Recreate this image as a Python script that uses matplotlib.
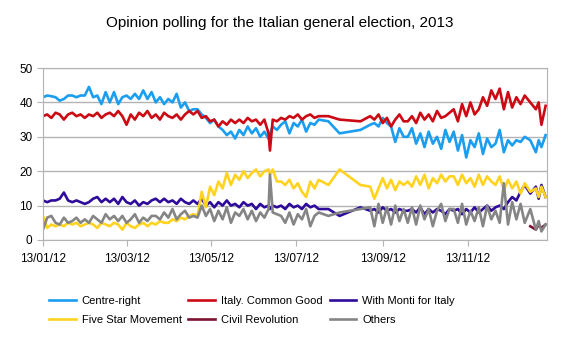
import matplotlib.pyplot as plt
import matplotlib.dates as mdates
from datetime import datetime

plt.rcParams['font.family'] = ['Liberation Sans', 'DejaVu Sans']

poll_dates = [
    "2012-01-13", "2012-01-16", "2012-01-19", "2012-01-22", "2012-01-25", "2012-01-28", "2012-01-31",
    "2012-02-03", "2012-02-06", "2012-02-09", "2012-02-12", "2012-02-15", "2012-02-18", "2012-02-21",
    "2012-02-24", "2012-02-27",
    "2012-03-01", "2012-03-04", "2012-03-07", "2012-03-10", "2012-03-13", "2012-03-16", "2012-03-19",
    "2012-03-22", "2012-03-25", "2012-03-28", "2012-03-31",
    "2012-04-03", "2012-04-06", "2012-04-09", "2012-04-12", "2012-04-15", "2012-04-18", "2012-04-21",
    "2012-04-24", "2012-04-27", "2012-04-30",
    "2012-05-03", "2012-05-06", "2012-05-09", "2012-05-12", "2012-05-15", "2012-05-18", "2012-05-21",
    "2012-05-24", "2012-05-27", "2012-05-30",
    "2012-06-02", "2012-06-05", "2012-06-08", "2012-06-11", "2012-06-14", "2012-06-17", "2012-06-20",
    "2012-06-23", "2012-06-24", "2012-06-26", "2012-06-29",
    "2012-07-02", "2012-07-05", "2012-07-08", "2012-07-11", "2012-07-14", "2012-07-17", "2012-07-20",
    "2012-07-23", "2012-07-26", "2012-07-29",
    "2012-08-05", "2012-08-13", "2012-08-28", "2012-09-04",
    "2012-09-07", "2012-09-10", "2012-09-13", "2012-09-16", "2012-09-19", "2012-09-22", "2012-09-25",
    "2012-09-28",
    "2012-10-01", "2012-10-04", "2012-10-07", "2012-10-10", "2012-10-13", "2012-10-16", "2012-10-19",
    "2012-10-22", "2012-10-25", "2012-10-28", "2012-10-31",
    "2012-11-03", "2012-11-06", "2012-11-09", "2012-11-12", "2012-11-15", "2012-11-18", "2012-11-21",
    "2012-11-24", "2012-11-27", "2012-11-30",
    "2012-12-03", "2012-12-06", "2012-12-09", "2012-12-12", "2012-12-15", "2012-12-18", "2012-12-21",
    "2012-12-24", "2012-12-28",
    "2013-01-01", "2013-01-03", "2013-01-05", "2013-01-08",
]

centre_right = [
    41.5, 42, 41.8, 41.5, 40.5, 41, 42,
    42, 41.5, 42, 42, 44.5, 41.5, 42, 39.5, 43,
    40, 43, 39.5, 41.5, 42, 41, 42.5, 41, 43.5, 41, 43,
    40, 41.5, 39.5, 41, 40, 42.5, 38.5, 40, 37.5, 38,
    38, 36.5, 35.5, 34, 35, 33, 32, 30.5, 31.5, 29.5,
    32, 30.5, 33, 31, 32.5, 30, 31.5, 29.5, 31, 33, 32,
    33.5, 34.5, 31, 34, 33, 35, 31.5, 34, 33.5, 35,
    34.5, 31, 32, 33.5,
    34, 33, 35.5, 34, 33, 28.5, 32.5, 30,
    30, 32.5, 28, 31, 27, 31.5, 28, 30, 26.5, 32, 28.5,
    31.5, 26, 30.5, 24, 29, 27, 31, 25, 29.5, 27,
    28, 32, 25.5, 29, 27.5, 29, 28.5, 30, 29,
    25.5, 29, 27, 30.5,
]

common_good = [
    36, 36.5, 35.5, 37, 36.5, 35, 36.5,
    37, 36, 36.5, 35.5, 36.5, 36, 37, 35.5, 36.5,
    37, 36, 37.5, 36, 33.5, 36.5, 35, 37, 36, 37.5, 35.5,
    36.5, 35, 37, 36, 35.5, 36.5, 35, 36.5, 37.5, 36.5,
    37.5, 35.5, 36, 34.5, 35, 33, 34.5, 33.5, 35, 34,
    35, 34, 35.5, 34.5, 35, 33.5, 35, 31, 26, 35, 34.5,
    35.5, 35, 36, 35.5, 36.5, 35, 36, 36.5, 35.5, 36,
    36, 35, 34.5, 36,
    35, 36.5, 34, 35.5, 33, 35, 36.5, 34.5,
    34.5, 36, 34, 37, 35, 36.5, 34.5, 37.5, 35.5, 36, 37,
    38, 34.5, 39.5, 36, 40, 36.5, 38, 41.5, 39, 43.5,
    41, 44, 38, 43, 38.5, 41.5, 39.5, 42, 40,
    38, 40, 33.5, 39,
]

monti = [
    11.5, 11, 11.5, 11.5, 12, 13.8, 11.5,
    11, 11.5, 11, 10.5, 11, 12, 12.5, 11, 12,
    11, 12, 10.5, 12.5, 11, 10.5, 11.5, 10, 11, 10.5, 11.5,
    12, 11, 12, 11, 11.5, 10.5, 12, 11, 10.5, 11.5,
    10.5, 12, 10, 11, 9.5, 11, 10, 11.5, 10, 10.5,
    9.5, 11, 10, 10.5, 9, 10.5, 9.5, 10, 9, 10, 9.5,
    10, 9, 10.5, 9.5, 10, 9, 10.5, 9.5, 10, 9,
    9, 7, 9.5, 8.5,
    9, 8, 9.5, 8.5, 9, 8, 9, 8.5,
    8.5, 9, 8, 9.5, 7.5, 9, 8, 9, 8.5, 7.5, 9,
    8.5, 9, 7.5, 9, 8, 9.5, 8, 9, 10, 8.5,
    9.5, 10, 9, 11, 12.5, 11.5, 14, 16, 13.5,
    15.5, 12, 16, 12.5,
]

five_star = [
    7, 3.5, 4.5, 4, 4.5, 4, 5,
    4.5, 5, 4, 4.5, 5, 4.5, 3.5, 5, 4.5,
    4, 5, 4.5, 3, 5, 4, 3.5, 4.5, 5, 4, 5,
    4.5, 5.5, 5, 5, 6, 5.5, 6.5, 6, 7, 7.5,
    7, 14, 9.5, 15.5, 13, 17, 15, 19.5, 16, 19,
    17.5, 20, 18, 19.5, 20.5, 18.5, 20, 20.5, 19, 20.5, 17,
    17, 16, 17.5, 15, 16.5, 14, 12.5, 17, 15, 17.5,
    16, 20.5, 16, 15.5,
    12, 15, 18, 15, 17.5, 14.5, 17, 16,
    17, 15.5, 18.5, 16, 19, 15, 18, 16.5, 19, 17, 18.5,
    18.5, 16, 19, 16.5, 18, 15.5, 19, 16, 18.5, 17,
    16, 18.5, 14.5, 17.5, 15, 17, 13.5, 16.5, 14,
    15, 12.5, 15.5, 12.5,
]

others = [
    3, 6.5, 7, 5, 4.5, 6.5, 5,
    5.5, 6.5, 5, 6, 5, 7, 6, 5, 7.5,
    6, 7, 5.5, 7, 5, 6, 7.5, 5, 6.5, 5.5, 7,
    7, 6, 8, 6.5, 9, 6, 7.5, 8.5, 6.5, 7,
    6.5, 10, 7, 9, 5.5, 8.5, 6, 9.5, 5, 8,
    7, 9, 6, 8.5, 5.5, 8, 6.5, 9, 19, 8, 7.5,
    7, 5, 8, 4.5, 7.5, 6, 9, 4, 7, 8,
    7, 8, 9, 9.5,
    4, 10.5, 5, 9.5, 4.5, 10, 5.5, 9,
    5, 9.5, 4.5, 10, 6, 9, 4, 8.5, 10.5, 5.5, 9,
    9, 5, 10.5, 4.5, 8.5, 5.5, 9.5, 4, 10, 6,
    8.5, 5, 16.5, 4.5, 11, 6, 10.5, 5, 9,
    3, 5.5, 2.5, 4.5,
]

civ_rev_dates = ["2012-12-28", "2013-01-01", "2013-01-03", "2013-01-05", "2013-01-08"]
civ_rev = [4, 3, 4.5, 3.5, 4.5]

tick_dates = ["2012-01-13", "2012-03-13", "2012-05-13", "2012-07-13", "2012-09-13", "2012-11-13"]

dates = [datetime.strptime(d, "%Y-%m-%d") for d in poll_dates]
cdates = [datetime.strptime(d, "%Y-%m-%d") for d in civ_rev_dates]
tdates = [datetime.strptime(d, "%Y-%m-%d") for d in tick_dates]

fig = plt.figure(figsize=(5.76, 3.48), dpi=100)
ax = fig.add_axes([43 / 576, 1 - 240 / 348, (547 - 43) / 576, (240 - 68) / 348])

lw = 1.9
l_cr, = ax.plot(dates, centre_right, color='#1b9ef0', lw=lw, label='Centre-right')
l_cg, = ax.plot(dates, common_good, color='#cc0a14', lw=lw, label='Italy. Common Good')
l_mo, = ax.plot(dates, monti, color='#2e0b9a', lw=lw, label='With Monti for Italy')
l_m5, = ax.plot(dates, five_star, color='#ffd320', lw=lw, label='Five Star Movement')
l_rc, = ax.plot(cdates, civ_rev, color='#7e1030', lw=lw, label='Civil Revolution')
l_ot, = ax.plot(dates, others, color='#858585', lw=lw, label='Others')

ax.set_ylim(0, 50)
ax.set_yticks(range(0, 51, 10))
ax.set_xlim(datetime(2012, 1, 13), datetime(2013, 1, 9))
ax.set_xticks(tdates)
ax.xaxis.set_major_formatter(mdates.DateFormatter('%d/%m/%y'))
ax.yaxis.grid(True, color='#b3b3b3', lw=1)
ax.set_axisbelow(True)
for s in ax.spines.values():
    s.set_color('#b3b3b3')
ax.tick_params(axis='both', direction='out', length=4, color='#b3b3b3', labelsize=8.5)
ax.tick_params(axis='x', pad=5)

fig.text(280 / 576, 1 - 23 / 348, 'Opinion polling for the Italian general election, 2013',
         ha='center', va='center', fontsize=11)

handles = [l_cr, l_m5, l_cg, l_rc, l_mo, l_ot]
fig.legend(handles=handles, labels=[h.get_label() for h in handles], ncol=3,
           loc='upper left', bbox_to_anchor=(49 / 576, 1 - 296 / 348), frameon=False,
           fontsize=8, handlelength=2.4, handletextpad=0.55, columnspacing=0.6,
           labelspacing=0.8, borderpad=0, borderaxespad=0)

fig.savefig('out.png', dpi=100)
